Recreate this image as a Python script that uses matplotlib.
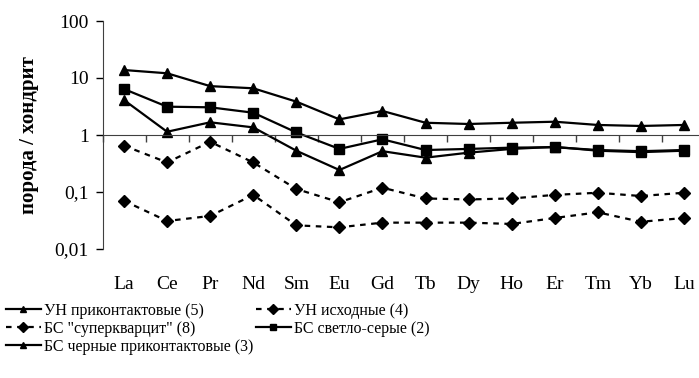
import numpy as np
import matplotlib
matplotlib.use('Agg')
import matplotlib.pyplot as plt
from matplotlib.lines import Line2D

plt.rcParams['font.family'] = ['Liberation Serif', 'DejaVu Serif']

elements = ['La', 'Ce', 'Pr', 'Nd', 'Sm', 'Eu', 'Gd', 'Tb', 'Dy', 'Ho', 'Er', 'Tm', 'Yb', 'Lu']

un_contact = [13.8, 12.1, 7.2, 6.6, 3.85, 1.88, 2.64, 1.64, 1.56, 1.64, 1.71, 1.5, 1.44, 1.5]
un_source = [0.65, 0.33, 0.76, 0.33, 0.113, 0.066, 0.119, 0.077, 0.074, 0.077, 0.089, 0.097, 0.085, 0.097]
bs_quartz = [0.070, 0.031, 0.038, 0.089, 0.026, 0.024, 0.029, 0.029, 0.029, 0.0275, 0.035, 0.044, 0.030, 0.035]
bs_light = [6.4, 3.14, 3.06, 2.46, 1.11, 0.57, 0.84, 0.545, 0.57, 0.60, 0.61, 0.545, 0.52, 0.545]
bs_black = [4.1, 1.14, 1.67, 1.36, 0.53, 0.243, 0.52, 0.40, 0.49, 0.57, 0.62, 0.53, 0.50, 0.53]

labels = ['УН приконтактовые (5)', 'УН исходные (4)', 'БС "суперкварцит" (8)',
          'БС светло-серые (2)', 'БС черные приконтактовые (3)']

x = np.arange(len(elements))
fig = plt.figure(figsize=(6.99, 3.78), dpi=100)
# plot area runs slightly past the right edge, as in the source
ax = fig.add_axes([102.5 / 699, (378 - 249) / 378, 603 / 699, 228 / 378])

lw = 1.6
dash = (0, (2.5, 2.5))
ax.plot(x, un_contact, color='black', lw=lw, marker='^', ms=7)
ax.plot(x, un_source, color='black', lw=lw, ls=dash, marker='D', ms=6)
ax.plot(x, bs_quartz, color='black', lw=lw, ls=dash, marker='D', ms=6)
ax.plot(x, bs_light, color='black', lw=lw, marker='s', ms=6.5)
ax.plot(x, bs_black, color='black', lw=lw, marker='^', ms=7)

ax.set_yscale('log')
ax.set_ylim(0.01, 100)
ax.set_xlim(-0.5, len(elements) - 0.5)
ax.set_yticks([0.01, 0.1, 1, 10, 100])
ax.set_yticklabels(['0,01', '0,1', '1', '10', '100'])
ax.yaxis.set_minor_locator(matplotlib.ticker.NullLocator())
ax.tick_params(axis='y', direction='out', length=5, width=1, labelsize=14, pad=5)

# category axis crosses at 1, ticks between categories
ax.spines['bottom'].set_position(('data', 1))
ax.spines['bottom'].set_color('#404040')
ax.spines['left'].set_color('#404040')
ax.spines['top'].set_visible(False)
ax.spines['right'].set_visible(False)
ax.set_xticks(np.arange(-0.5, len(elements), 1.0))
ax.set_xticklabels([])
ax.tick_params(axis='x', direction='out', length=5, width=1, color='#404040')
for xi, name in zip(x, elements):
    ax.text(xi, -0.155, name, transform=ax.get_xaxis_transform(),
            ha='center', va='center', fontsize=14)

ax.set_ylabel('порода / хондрит', fontsize=15, fontweight='bold', labelpad=11)

handles = [
    Line2D([], [], color='black', lw=lw, marker='^', ms=5),
    Line2D([], [], color='black', lw=lw, ls=dash, marker='D', ms=5),
    Line2D([], [], color='black', lw=lw, ls=dash, marker='D', ms=5),
    Line2D([], [], color='black', lw=lw, marker='s', ms=5),
    Line2D([], [], color='black', lw=lw, marker='^', ms=5),
]
order = [0, 2, 4, 1, 3]
fig.legend([handles[i] for i in order], [labels[i] for i in order],
           loc='upper left', bbox_to_anchor=(0.006, 0.203), ncol=2, frameon=False,
           fontsize=11.5, handlelength=2.2, handletextpad=0.2, labelspacing=0.12,
           columnspacing=0.15, borderaxespad=0, borderpad=0.1)

fig.savefig('out.png', dpi=100)
